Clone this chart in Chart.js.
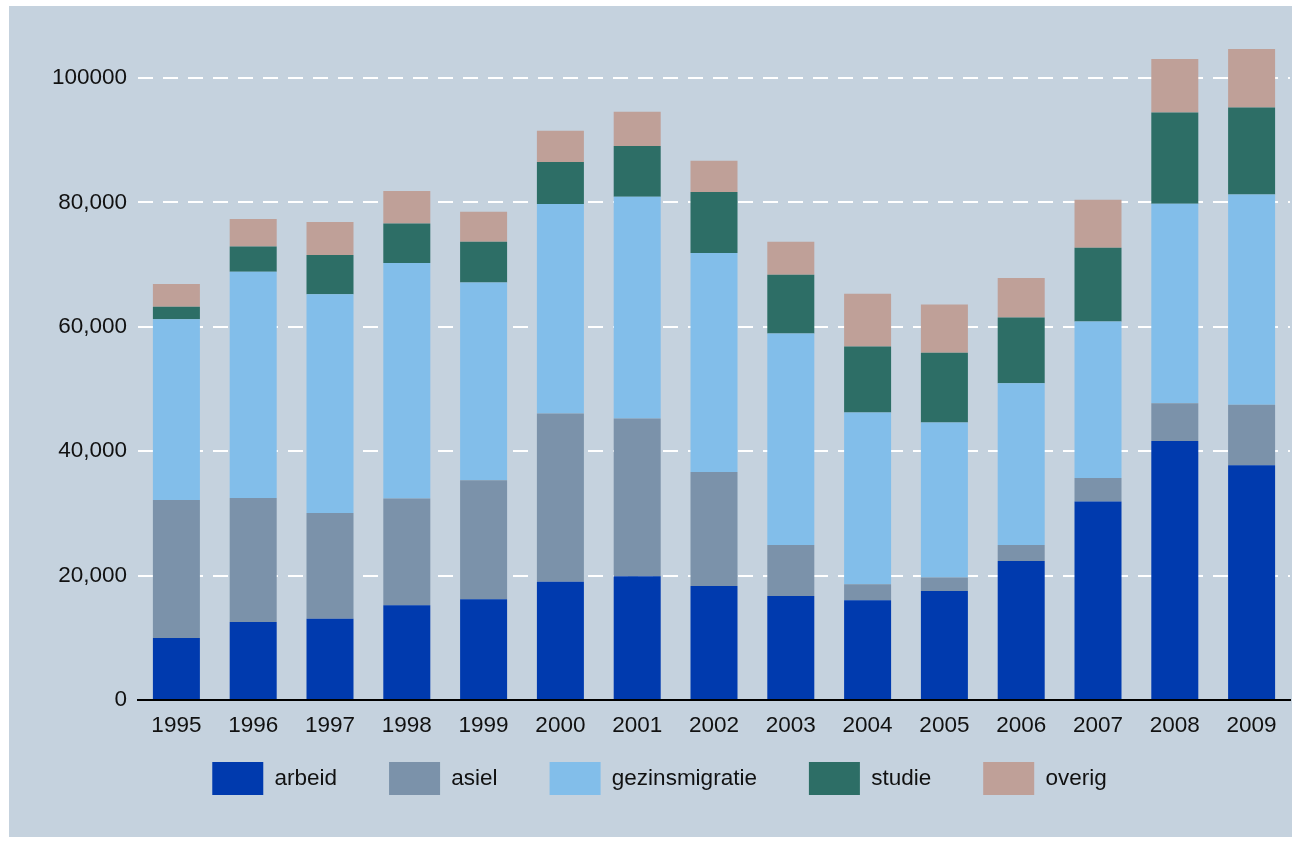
<!DOCTYPE html>
<html>
<head>
<meta charset="utf-8">
<script src="https://cdn.jsdelivr.net/npm/chart.js@4"></script>
<style>
  html, body { margin: 0; padding: 0; background: #fff; }
  #panel { position: absolute; left: 9px; top: 6px; width: 1283px; height: 831px; background: #c5d2de; overflow: hidden; }
  canvas { display: block; }
</style>
</head>
<body>
<div id="panel"><canvas id="chart" width="1283" height="831"></canvas></div>
<script>
const years = ['1995', '1996', '1997', '1998', '1999', '2000', '2001', '2002', '2003', '2004', '2005', '2006', '2007', '2008', '2009'];
const arbeid = [9970, 12550, 13080, 15230, 16190, 19030, 19890, 18340, 16730, 16040, 17530, 22360, 31900, 41660, 37750];
const asiel = [22200, 19940, 17000, 17150, 19150, 27020, 25360, 18330, 8200, 2570, 2150, 2570, 3810, 6060, 9700];
const gezinsmigratie = [29060, 36350, 35170, 37860, 31780, 33680, 35660, 35180, 33990, 27600, 24930, 26010, 25140, 32060, 33830];
const studie = [1980, 4080, 6280, 6380, 6550, 6760, 8150, 9810, 9440, 10620, 11200, 10550, 11850, 14690, 13990];
const overig = [3660, 4400, 5310, 5200, 4820, 5030, 5520, 5040, 5310, 8470, 7770, 6340, 7720, 8580, 9390];
const yTicks = [0, 20000, 40000, 60000, 80000, 100000];

const font = { family: '"Liberation Sans", Arial, sans-serif', size: 22.5 };

function series(label, data, color) {
  return { label, data, backgroundColor: color, borderWidth: 0, barPercentage: 0.612, categoryPercentage: 1 };
}

// the legend keeps wide gaps between items, but sits closer to the axis labels
const legendShift = {
  id: 'legendShift',
  afterLayout(chart) {
    const legend = chart.legend;
    if (!legend) return;
    legend.top -= 30;
    legend.bottom -= 30;
    legend.left += 10;
    legend.right += 10;
  }
};

new Chart(document.getElementById('chart'), {
  type: 'bar',
  data: {
    labels: years,
    datasets: [
      series('arbeid', arbeid, '#003aae'),
      series('asiel', asiel, '#7b92aa'),
      series('gezinsmigratie', gezinsmigratie, '#82beea'),
      series('studie', studie, '#2d6e66'),
      series('overig', overig, '#bfa098')
    ]
  },
  plugins: [legendShift],
  options: {
    responsive: false,
    animation: false,
    layout: { padding: { top: 0, right: 2, left: 0, bottom: 2 } },
    plugins: {
      tooltip: { enabled: false },
      legend: {
        position: 'bottom',
        labels: {
          boxWidth: 51,
          boxHeight: 33,
          padding: 52,
          color: '#111',
          font
        }
      }
    },
    scales: {
      x: {
        stacked: true,
        grid: { display: false, drawTicks: false },
        border: { display: true, color: '#000', width: 2 },
        ticks: { color: '#111', font, padding: 12, maxRotation: 0 },
        afterFit: scale => { scale.height = 40; }
      },
      y: {
        stacked: true,
        min: 0,
        max: 107640,
        afterBuildTicks: scale => { scale.ticks = yTicks.map(value => ({ value })); },
        afterFit: scale => { scale.width = 129; },
        grid: {
          drawTicks: false,
          color: ctx => ctx.tick && ctx.tick.value === 0 ? 'rgba(0,0,0,0)' : '#ffffff',
          lineWidth: 2
        },
        border: { display: false, dash: [15, 10] },
        ticks: {
          color: '#111',
          font,
          padding: 11,
          callback: v => v === 100000 ? '100000' : Number(v).toLocaleString('en-US')
        }
      }
    }
  }
});
</script>
</body>
</html>
